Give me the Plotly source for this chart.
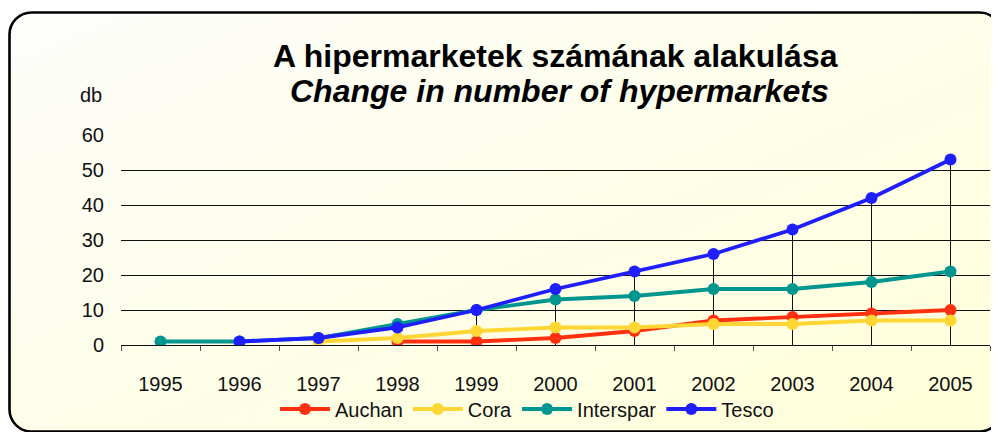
import base64
import plotly.graph_objects as go

years = ["1995", "1996", "1997", "1998", "1999", "2000", "2001", "2002", "2003", "2004", "2005"]
auchan = [None, None, None, 1, 1, 2, 4, 7, 8, 9, 10]
cora = [None, None, 1, 2, 4, 5, 5, 6, 6, 7, 7]
interspar = [1, 1, 2, 6, 10, 13, 14, 16, 16, 18, 21]
tesco = [None, 1, 2, 5, 10, 16, 21, 26, 33, 42, 53]
y_ticks = [0, 10, 20, 30, 40, 50, 60]

series = [
    ("Auchan", auchan, "#FF3010"),
    ("Cora", cora, "#FFD633"),
    ("Interspar", interspar, "#009690"),
    ("Tesco", tesco, "#1E1EFF"),
]

# page body has an 8px margin; work in window pixel coords and shift
OFF = 8
WIN_W, WIN_H = 999, 432
W, H = WIN_W - OFF, WIN_H - OFF
PL, PR, PT, PB = 121, 990, 135, 345  # plot area in window pixels
L, R, T, B = PL - OFF, W - (PR - OFF), PT - OFF, H - (PB - OFF)
PW, PH = W - L - R, H - T - B

def px(x):
    return (x - PL) / PW

def py(y):
    return (PB - y) / PH

def cx(x):
    return (x - OFF) / W

def cy(y):
    return 1 - (y - OFF) / H

FONT = "Liberation Sans, Arial, sans-serif"

fig = go.Figure()

# drop lines from highest point to the axis
dx, dy = [], []
for i, yr in enumerate(years):
    vals = [s[1][i] for s in series if s[1][i] is not None]
    dx += [yr, yr, None]
    dy += [max(vals), 0, None]
fig.add_trace(go.Scatter(x=dx, y=dy, mode="lines", line=dict(color="#111111", width=1),
                         showlegend=False, hoverinfo="skip"))

for name, vals, col in series:
    fig.add_trace(go.Scatter(x=years, y=vals, name=name, mode="lines+markers",
                             line=dict(color=col, width=3.8),
                             marker=dict(color=col, size=12)))

svg = f'''<svg xmlns="http://www.w3.org/2000/svg" width="{WIN_W}" height="{WIN_H}" viewBox="0 0 {WIN_W} {WIN_H}">
<defs><linearGradient id="g" x1="0" y1="0" x2="1" y2="1">
<stop offset="0" stop-color="#FDFDFB"/><stop offset="1" stop-color="#FFFFD9"/></linearGradient></defs>
<rect x="9.5" y="12.5" width="992" height="419" rx="22" ry="22" fill="url(#g)" stroke="#000" stroke-width="2.6"/>
</svg>'''
src = "data:image/svg+xml;base64," + base64.b64encode(svg.encode()).decode()

fig.update_layout(
    width=W, height=H,
    margin=dict(l=L, r=R, t=T, b=B, autoexpand=False),
    paper_bgcolor="white",
    plot_bgcolor="rgba(0,0,0,0)",
    font=dict(family=FONT, size=20, color="#111111"),
    images=[dict(source=src, xref="paper", yref="paper", x=px(0), y=py(0),
                 sizex=WIN_W / PW, sizey=WIN_H / PH, xanchor="left", yanchor="top",
                 sizing="stretch", layer="below")],
    xaxis=dict(type="category", categoryorder="array", categoryarray=years,
               range=[-0.5, len(years) - 0.5], autorange=False, automargin=False,
               showgrid=False, showline=True, linecolor="#111111", linewidth=1,
               ticks="outside", tickson="boundaries", ticklen=5, tickcolor="#555555",
               ticklabelstandoff=21, tickfont=dict(size=20, family=FONT, color="#111111")),
    yaxis=dict(range=[0, 60], tickvals=y_ticks, showgrid=True, gridcolor="#111111", gridwidth=1,
               zeroline=False, showline=False, ticks="", ticklabelstandoff=16, automargin=False,
               tickfont=dict(size=20, family=FONT, color="#111111")),
    legend=dict(orientation="h", xref="container", yref="container",
                x=cx(527), xanchor="center", y=cy(409), yanchor="middle",
                bgcolor="rgba(0,0,0,0)", font=dict(size=20, family=FONT, color="#111111"),
                itemwidth=50, tracegroupgap=0),
    showlegend=True,
    annotations=[
        dict(text="<b>A hipermarketek számának alakulása</b>", xref="paper", yref="paper",
             x=px(555), y=py(56), xanchor="center", yanchor="middle", showarrow=False,
             font=dict(size=32, family=FONT, color="#000000")),
        dict(text="<b><i>Change in number of hypermarkets</i></b>", xref="paper", yref="paper",
             x=px(559), y=py(91), xanchor="center", yanchor="middle", showarrow=False,
             font=dict(size=32, family=FONT, color="#000000")),
        dict(text="db", xref="paper", yref="paper", x=px(91), y=py(95), xanchor="center",
             yanchor="middle", showarrow=False, font=dict(size=20, family=FONT, color="#111111")),
    ],
)

fig.write_html("out.html")
